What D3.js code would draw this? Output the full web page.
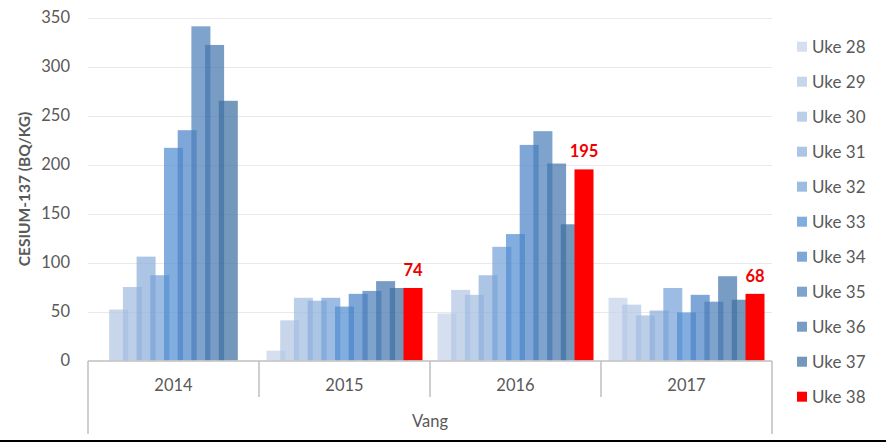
<!DOCTYPE html>
<html>
<head>
<meta charset="utf-8">
<script src="https://cdn.jsdelivr.net/npm/d3@7"></script>
<style>
  html, body { margin: 0; padding: 0; background: #ffffff; }
  svg { display: block; }
  text { font-family: Lato, "Open Sans", sans-serif; }
</style>
</head>
<body>
<svg id="chart" width="886" height="445"></svg>
<script>
// ---- data ----
const years = ["2014", "2015", "2016", "2017"];
const groupLabel = "Vang";
const weeks = ["Uke 28", "Uke 29", "Uke 30", "Uke 31", "Uke 32", "Uke 33", "Uke 34", "Uke 35", "Uke 36", "Uke 37", "Uke 38"];
const values2014 = [null, 52, 75, 106, 87, 217, 235, 341, 322, 265, null];
const values2015 = [10, 41, 64, 61, 64, 55, 68, 71, 81, 74, 74];
const values2016 = [48, 72, 67, 87, 116, 129, 220, 234, 201, 139, 195];
const values2017 = [64, 57, 46, 51, 74, 49, 67, 60, 86, 62, 68];
const labelledWeek = "Uke 38";
const labels = ["", "74", "195", "68"];
const yTicks = [0, 50, 100, 150, 200, 250, 300, 350];
const yTitle = "CESIUM-137 (BQ/KG)";
const weekColors = ["#d5dff0", "#c8d6ec", "#bccfe9", "#adc5e5", "#9dbce3", "#82addf", "#7ea6d6", "#7ea3cc", "#799cc5", "#7398bb", "#ff0000"];

const valuesByYear = [values2014, values2015, values2016, values2017];

// ---- layout ----
const svg = d3.select("#chart");
const plotLeft = 88, plotRight = 772;
const y = d3.scaleLinear().domain([0, 350]).range([360.5, 17.5]);
const x0 = d3.scaleBand().domain(years).range([plotLeft, plotRight]).padding(0);
const barW = 19;
const step = 13.7;
const span = step * (weeks.length - 1) + barW;
const x1 = d3.scalePoint().domain(weeks).range([0, step * (weeks.length - 1)]);
const color = d3.scaleOrdinal().domain(weeks).range(weekColors);
const alpha = 0.72;
function baseColor(hex) {
  const c = d3.rgb(hex);
  const f = v => Math.max(0, Math.round(255 - (255 - v) / alpha));
  return d3.rgb(f(c.r), f(c.g), f(c.b)).formatHex();
}

// gridlines
svg.append("g").selectAll("line").data(yTicks.slice(1)).join("line")
  .attr("x1", plotLeft).attr("x2", plotRight)
  .attr("y1", d => Math.round(y(d)) + 0.5).attr("y2", d => Math.round(y(d)) + 0.5)
  .attr("stroke", "#e9e9e9").attr("stroke-width", 1);

// y tick labels
svg.append("g").selectAll("text").data(yTicks).join("text")
  .attr("x", 70).attr("y", d => y(d))
  .attr("dy", "0.35em")
  .attr("text-anchor", "end")
  .attr("font-size", 16.5)
  .attr("fill", "#595959")
  .text(d => d);

// y title
svg.append("text")
  .attr("transform", "translate(30,189) rotate(-90)")
  .attr("text-anchor", "middle")
  .attr("font-size", 15.5)
  .attr("font-weight", "bold")
  .attr("fill", "#595959")
  .text(yTitle);

// bars
const rows = [];
years.forEach((yr, i) => {
  weeks.forEach((w, j) => {
    const v = valuesByYear[i][j];
    if (v !== null) rows.push({ year: yr, week: w, value: v, idx: i });
  });
});
const bars = svg.append("g");
bars.selectAll("rect").data(rows).join("rect")
  .attr("x", d => x0(d.year) + (x0.bandwidth() - span) / 2 + x1(d.week))
  .attr("y", d => y(d.value))
  .attr("width", barW)
  .attr("height", d => y(0) - y(d.value))
  .attr("fill", d => d.week === labelledWeek ? color(d.week) : baseColor(color(d.week)))
  .attr("fill-opacity", d => d.week === labelledWeek ? 1 : alpha);

// data labels
svg.append("g").selectAll("text").data(rows.filter(d => d.week === labelledWeek)).join("text")
  .attr("x", d => x0(d.year) + (x0.bandwidth() - span) / 2 + x1(d.week) + barW / 2)
  .attr("y", d => y(d.value) - 12)
  .attr("text-anchor", "middle")
  .attr("font-size", 16.5)
  .attr("font-weight", "bold")
  .attr("fill", "#ee0000")
  .text(d => labels[d.idx]);

// x axis line and category separators
const axis = svg.append("g").attr("stroke", "#bfbfbf").attr("stroke-width", 1.5);
axis.append("line").attr("x1", plotLeft).attr("x2", plotRight).attr("y1", 361).attr("y2", 361);
const seps = years.map(yr => x0(yr)).concat([plotRight]);
axis.selectAll("line.sep").data(seps).join("line").attr("class", "sep")
  .attr("x1", d => d).attr("x2", d => d)
  .attr("y1", 361)
  .attr("y2", (d, i) => (i === 0 || i === seps.length - 1) ? 434 : 397);

// year labels
svg.append("g").selectAll("text").data(years).join("text")
  .attr("x", d => x0(d) + x0.bandwidth() / 2)
  .attr("y", 385).attr("dy", "0.35em")
  .attr("text-anchor", "middle")
  .attr("font-size", 16.5)
  .attr("fill", "#595959")
  .text(d => d);

svg.append("text")
  .attr("x", (plotLeft + plotRight) / 2).attr("y", 421).attr("dy", "0.35em")
  .attr("text-anchor", "middle")
  .attr("font-size", 16.5)
  .attr("fill", "#595959")
  .text(groupLabel);

// legend
const legend = svg.append("g");
const leg = legend.selectAll("g").data(weeks).join("g")
  .attr("transform", (d, i) => `translate(797,${46.7 + i * 35})`);
leg.append("rect").attr("x", 0).attr("y", -5).attr("width", 10).attr("height", 10)
  .attr("fill", d => color(d));
leg.append("text").attr("x", 15).attr("y", 0).attr("dy", "0.35em")
  .attr("font-size", 17).attr("fill", "#595959")
  .text(d => d);

// bottom border line
svg.append("line").attr("x1", 0).attr("x2", 886).attr("y1", 441).attr("y2", 441)
  .attr("stroke", "#000000").attr("stroke-width", 2);
</script>
</body>
</html>
